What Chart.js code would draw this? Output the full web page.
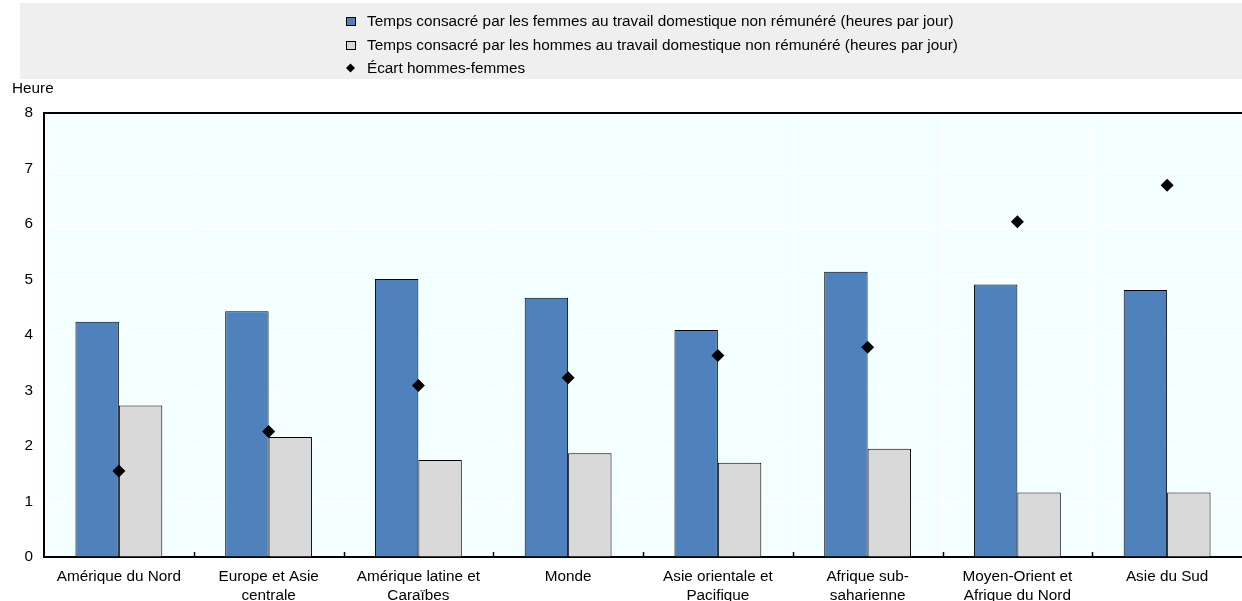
<!DOCTYPE html>
<html>
<head>
<meta charset="utf-8">
<script src="https://cdn.jsdelivr.net/npm/chart.js@4.4.1/dist/chart.umd.min.js"></script>
<style>
  html, body { margin: 0; padding: 0; background: #fff; }
  #wrap { width: 1242px; height: 601px; position: relative; }
</style>
</head>
<body>
<div id="wrap"><canvas id="unpaidWorkChart" width="1242" height="601"></canvas></div>
<script>
// categories (x labels split on two lines like the original)
const regions = [
    ["Amérique du Nord"],
    ["Europe et Asie", "centrale"],
    ["Amérique latine et", "Caraïbes"],
    ["Monde"],
    ["Asie orientale et", "Pacifique"],
    ["Afrique sub-", "saharienne"],
    ["Moyen-Orient et", "Afrique du Nord"],
    ["Asie du Sud"]
];
const womenHours = [4.24, 4.43, 5.01, 4.67, 4.09, 5.14, 4.91, 4.81];
const menHours = [2.73, 2.16, 1.75, 1.87, 1.70, 1.95, 1.16, 1.16];
const genderGap = [1.55, 2.26, 3.09, 3.23, 3.63, 3.78, 6.04, 6.70];
const yTicks = [0, 1, 2, 3, 4, 5, 6, 7, 8];

const labelWomen = "Temps consacré par les femmes au travail domestique non rémunéré (heures par jour)";
const labelMen = "Temps consacré par les hommes au travail domestique non rémunéré (heures par jour)";
const labelGap = "Écart hommes-femmes";
const yUnit = "Heure";

const blueColor = "#4F81BD";
const greyColor = "#D9D9D9";
const plotBg = "#F4FFFF";
const fontFamily = "'Liberation Sans', Arial, sans-serif";
const fontSize = 15.3;

// draws plot background, the legend box, the unit label and inward ticks
const oecdDecor = {
    id: "oecdDecor",
    beforeDraw(chart) {
        const ctx = chart.ctx;
        const area = chart.chartArea;
        ctx.save();
        ctx.fillStyle = plotBg;
        ctx.fillRect(area.left, area.top, area.right - area.left, area.bottom - area.top);
        ctx.restore();
    },
    afterDraw(chart) {
        const ctx = chart.ctx;
        const area = chart.chartArea;
        const xScale = chart.scales.x;
        ctx.save();
        // legend background
        ctx.fillStyle = "#EFEFEF";
        ctx.fillRect(20, 3, chart.width - 20, 76);
        ctx.font = fontSize + "px " + fontFamily;
        ctx.textBaseline = "middle";
        ctx.fillStyle = "#000";
        const rows = [21, 45, 68];
        chart.data.datasets.forEach(function (ds, i) {
            const y = rows[i];
            if (ds.type === "line") {
                ctx.beginPath();
                ctx.moveTo(346, y);
                ctx.lineTo(350.5, y - 4.5);
                ctx.lineTo(355, y);
                ctx.lineTo(350.5, y + 4.5);
                ctx.closePath();
                ctx.fillStyle = "#000";
                ctx.fill();
            } else {
                ctx.fillStyle = ds.backgroundColor;
                ctx.fillRect(346.5, y - 3.5, 9, 8);
                ctx.strokeStyle = "#000";
                ctx.lineWidth = 1;
                ctx.strokeRect(346.5, y - 3.5, 9, 8);
            }
            ctx.fillStyle = "#000";
            ctx.textAlign = "left";
            ctx.fillText(ds.label, 367, y + 1);
        });
        // unit label above y axis
        ctx.fillText(yUnit, 12, 89);
        // inward tick marks between categories
        ctx.strokeStyle = "#000";
        ctx.lineWidth = 1.5;
        for (let i = 1; i < regions.length; i++) {
            const x = Math.round((xScale.getPixelForValue(i - 1) + xScale.getPixelForValue(i)) / 2) + 0.5;
            ctx.beginPath();
            ctx.moveTo(x, area.bottom);
            ctx.lineTo(x, area.bottom - 5);
            ctx.stroke();
        }
        ctx.restore();
    }
};

const chartData = {
    labels: regions,
    datasets: [
        {
            type: "bar",
            label: labelWomen,
            data: womenHours,
            backgroundColor: blueColor,
            borderColor: "#000",
            borderWidth: 1,
            order: 1
        },
        {
            type: "bar",
            label: labelMen,
            data: menHours,
            backgroundColor: greyColor,
            borderColor: "#000",
            borderWidth: 1,
            order: 2
        },
        {
            type: "line",
            label: labelGap,
            data: genderGap,
            showLine: false,
            pointStyle: "rectRot",
            pointRadius: 6.5,
            pointHoverRadius: 6.5,
            backgroundColor: "#000",
            borderColor: "#000",
            borderWidth: 0,
            order: 0
        }
    ]
};

const chartOptions = {
    responsive: false,
    animation: false,
    datasets: {
        bar: {
            barPercentage: 1,
            categoryPercentage: 0.58
        }
    },
    layout: {
        // no auto padding for the point markers, plot runs to the right edge
        autoPadding: false,
        padding: { top: 113, right: 0, bottom: 0, left: 0 }
    },
    plugins: {
        legend: { display: false },
        tooltip: { enabled: false }
    },
    scales: {
        x: {
            grid: {
                offset: true,
                color: "#FFFFFF",
                lineWidth: 1,
                drawTicks: false
            },
            border: { color: "#000", width: 2 },
            ticks: {
                color: "#000",
                padding: 11,
                maxRotation: 0,
                autoSkip: false,
                font: { family: fontFamily, size: fontSize, lineHeight: 1.2 }
            },
            afterFit: function (scale) {
                scale.height = 44;
                scale.paddingLeft = 0;
                scale.paddingRight = 0;
            }
        },
        y: {
            min: 0,
            max: 8,
            afterBuildTicks: function (scale) {
                scale.ticks = yTicks.map(function (v) { return { value: v }; });
            },
            grid: {
                color: function (c) { return c.tick && c.tick.value === 8 ? "#000" : "#FFFFFF"; },
                lineWidth: function (c) { return c.tick && c.tick.value === 8 ? 2 : 1; },
                drawTicks: false
            },
            border: { color: "#000", width: 2 },
            ticks: {
                color: "#000",
                padding: 11,
                font: { family: fontFamily, size: fontSize }
            },
            afterFit: function (scale) { scale.width = 44; }
        }
    }
};

const ctx = document.getElementById("unpaidWorkChart").getContext("2d");
const chartObject = new Chart(ctx, {
    data: chartData,
    options: chartOptions,
    plugins: [oecdDecor]
});
</script>
</body>
</html>
